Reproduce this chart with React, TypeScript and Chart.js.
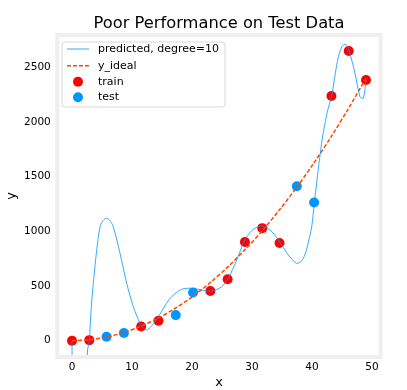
import React, { useEffect, useRef } from "react";
import { Chart, registerables } from "chart.js";

Chart.register(...registerables);

const titleText = "Poor Performance on Test Data";
const xLabel = "x";
const yLabel = "y";
const legendLabels = ["predicted, degree=10", "y_ideal", "train", "test"];

const xTicks = [0, 10, 20, 30, 40, 50];
const yTicks = [0, 500, 1000, 1500, 2000, 2500];

const trainX = [0, 2.88, 11.53, 14.41, 23.06, 25.94, 28.82, 31.71, 34.59, 43.24, 46.12, 49];
const trainY = [0, 5, 130, 182, 455, 562, 902, 1029, 893, 2238, 2648, 2383];

const testX = [5.76, 8.65, 17.29, 20.18, 37.47, 40.35];
const testY = [36, 70, 234, 440, 1412, 1263];

const idealX = [0, 2.88, 5.76, 8.65, 11.53, 14.41, 17.29, 20.18, 23.06, 25.94, 28.82, 31.71, 34.59, 37.47, 40.35, 43.24, 46.12, 49];
const idealY = [0, 8, 33, 75, 133, 208, 299, 407, 532, 673, 831, 1005, 1197, 1404, 1628, 1869, 2127, 2401];

const predX = [0, 0.3, 1.3, 2.2, 2.55, 2.88, 3.2, 3.55, 4.12, 4.67, 5.2, 5.78, 6.3, 6.88, 8.0, 9.12, 10.22, 11.33, 11.9, 12.45, 13.2, 14.4, 15.5, 16.6, 18.3, 19.95, 21.6, 23.3, 24.95, 26.05, 27.45, 28.8, 29.7, 30.5, 31.7, 33.3, 34.95, 36.05, 37.4, 38.2, 38.8, 39.4, 39.95, 40.4, 41.6, 42.5, 43.3, 43.9, 44.4, 45.0, 45.5, 45.8, 46.17, 47.17, 48.0, 48.55, 49.0];
const predY = [0, -3000, -5000, -2000, -112, 6, 300, 525, 829, 1042, 1100, 1119, 1100, 1042, 799, 525, 311, 159, 115, 98, 130, 219, 320, 402, 470, 479, 464, 454, 494, 571, 738, 921, 990, 1028, 1049, 997, 875, 784, 708, 725, 784, 900, 1042, 1266, 1805, 2080, 2244, 2450, 2597, 2690, 2710, 2700, 2655, 2445, 2231, 2216, 2383];

const BLUE = "#0096ff";
const RED = "#ff0000";
const ORANGE = "#ff4500";
const FONT = "DejaVu Sans";

const pts = (xs: number[], ys: number[]) => xs.map((x, i) => ({ x, y: ys[i] }));

export default function App() {
  const ref = useRef<HTMLCanvasElement | null>(null);

  useEffect(() => {
    if (!ref.current) return;

    const framePlugin = {
      id: "frame",
      afterDatasetsDraw(chart: any) {
        const { ctx, chartArea: a } = chart;
        ctx.save();
        ctx.strokeStyle = "#efefef";
        ctx.lineWidth = 4;
        ctx.strokeRect(a.left, a.top, a.right - a.left, a.bottom - a.top);
        ctx.restore();
      },
      afterDraw(chart: any) {
        const { ctx, chartArea: a } = chart;
        ctx.save();
        // title
        ctx.fillStyle = "#000";
        ctx.font = `16.3px "${FONT}"`;
        ctx.textAlign = "center";
        ctx.textBaseline = "alphabetic";
        ctx.fillText(titleText, (a.left + a.right) / 2, 28.3);
        // legend
        const bx = 62, by = 42, bw = 163, bh = 65;
        ctx.beginPath();
        const r = 3;
        ctx.moveTo(bx + r, by);
        ctx.lineTo(bx + bw - r, by);
        ctx.quadraticCurveTo(bx + bw, by, bx + bw, by + r);
        ctx.lineTo(bx + bw, by + bh - r);
        ctx.quadraticCurveTo(bx + bw, by + bh, bx + bw - r, by + bh);
        ctx.lineTo(bx + r, by + bh);
        ctx.quadraticCurveTo(bx, by + bh, bx, by + bh - r);
        ctx.lineTo(bx, by + r);
        ctx.quadraticCurveTo(bx, by, bx + r, by);
        ctx.closePath();
        ctx.fillStyle = "rgba(255,255,255,0.8)";
        ctx.fill();
        ctx.strokeStyle = "#d9d9d9";
        ctx.lineWidth = 1;
        ctx.stroke();
        const rows = [49, 65.7, 81.7, 97.3];
        // predicted line
        ctx.strokeStyle = BLUE;
        ctx.lineWidth = 0.8;
        ctx.beginPath();
        ctx.moveTo(67, rows[0]);
        ctx.lineTo(89, rows[0]);
        ctx.stroke();
        // ideal dashed
        ctx.strokeStyle = ORANGE;
        ctx.lineWidth = 1.5;
        ctx.setLineDash([4, 2]);
        ctx.beginPath();
        ctx.moveTo(67, rows[1]);
        ctx.lineTo(89, rows[1]);
        ctx.stroke();
        ctx.setLineDash([]);
        // markers
        ctx.fillStyle = RED;
        ctx.beginPath();
        ctx.arc(78, rows[2], 5, 0, Math.PI * 2);
        ctx.fill();
        ctx.fillStyle = BLUE;
        ctx.beginPath();
        ctx.arc(78, rows[3], 5, 0, Math.PI * 2);
        ctx.fill();
        // texts
        ctx.fillStyle = "#000";
        ctx.font = `11px "${FONT}"`;
        ctx.textAlign = "left";
        ctx.textBaseline = "middle";
        legendLabels.forEach((t, i) => ctx.fillText(t, 98, rows[i]));
        ctx.restore();
      },
    };

    const chart = new Chart(ref.current, {
      type: "scatter",
      data: {
        datasets: [
          {
            label: legendLabels[0],
            data: pts(predX, predY),
            showLine: true,
            borderColor: BLUE,
            borderWidth: 0.8,
            pointRadius: 0,
            tension: 0.3,
            order: 0,
          } as any,
          {
            label: legendLabels[1],
            data: pts(idealX, idealY),
            showLine: true,
            borderColor: ORANGE,
            borderWidth: 1.5,
            borderDash: [4, 2],
            pointRadius: 0,
            tension: 0.3,
            order: 0,
          },
          {
            label: legendLabels[2],
            data: pts(trainX, trainY),
            backgroundColor: RED,
            borderWidth: 0,
            pointRadius: 5,
            order: 1,
          },
          {
            label: legendLabels[3],
            data: pts(testX, testY),
            backgroundColor: BLUE,
            borderWidth: 0,
            pointRadius: 5,
            order: 1,
          },
        ],
      },
      options: {
        responsive: false,
        animation: false,
        devicePixelRatio: 1,
        layout: { padding: { top: 35, right: 26.3, left: 0, bottom: 0 } },
        plugins: {
          legend: { display: false },
          tooltip: { enabled: false },
          title: { display: false },
        },
        scales: {
          x: {
            type: "linear",
            min: -2.45,
            max: 51.45,
            afterBuildTicks: (s: any) => {
              s.ticks = xTicks.map((v) => ({ value: v }));
            },
            afterFit: (s: any) => {
              s.height = 33;
            },
            grid: { display: false, drawTicks: false },
            border: { display: false },
            ticks: {
              color: "#000",
              font: { family: FONT, size: 10.5 },
              padding: 4,
              maxRotation: 0,
              autoSkip: false,
              callback: (v: any) => String(v),
            },
            title: {
              display: true,
              text: xLabel,
              color: "#000",
              font: { family: FONT, size: 13 },
              padding: { top: 0, bottom: 0 },
            },
          },
          y: {
            type: "linear",
            min: -149,
            max: 2795,
            afterBuildTicks: (s: any) => {
              s.ticks = yTicks.map((v) => ({ value: v }));
            },
            afterFit: (s: any) => {
              s.width = 57.3;
            },
            grid: { display: false, drawTicks: false },
            border: { display: false },
            ticks: {
              color: "#000",
              font: { family: FONT, size: 10.5 },
              padding: 6.5,
              autoSkip: false,
              callback: (v: any) => String(v),
            },
            title: {
              display: true,
              text: yLabel,
              color: "#000",
              font: { family: FONT, size: 13 },
              padding: { top: 4.2, bottom: 0 },
            },
          },
        },
      },
      plugins: [framePlugin],
    });

    return () => chart.destroy();
  }, []);

  return (
    <div style={{ position: "absolute", left: 0, top: 0, width: 407, height: 390, background: "#fff" }}>
      <canvas ref={ref} width={407} height={390} style={{ display: "block", width: 407, height: 390 }} />
    </div>
  );
}
